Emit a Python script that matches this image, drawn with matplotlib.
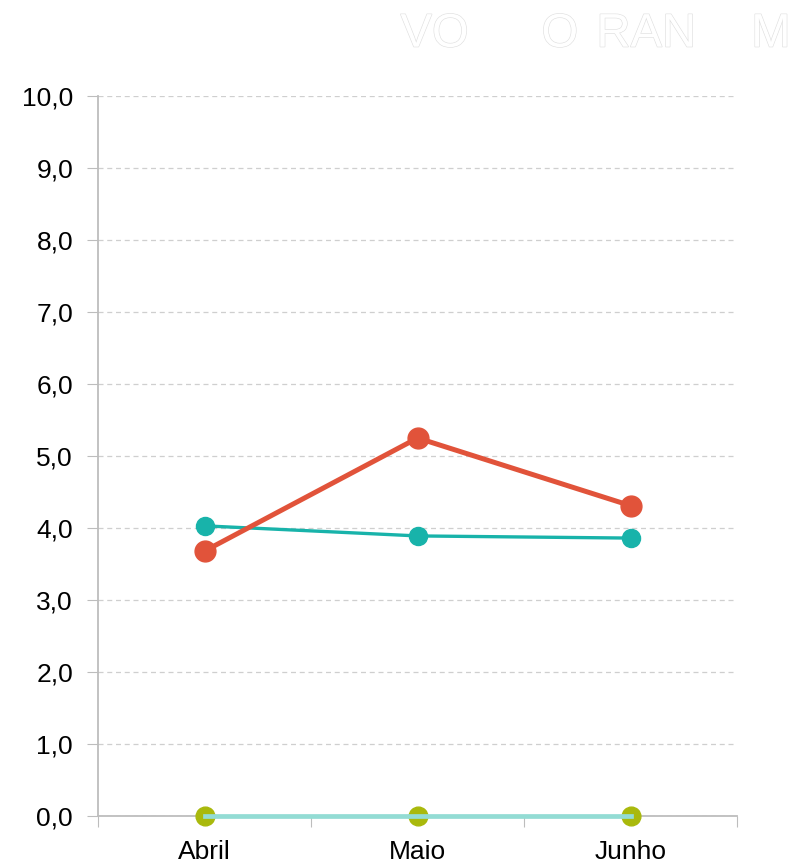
import matplotlib.pyplot as plt
import matplotlib.patheffects as pe
from matplotlib.ticker import FuncFormatter, FixedLocator

plt.rcParams['font.family'] = ['Liberation Sans', 'DejaVu Sans']

meses = ['Abril', 'Maio', 'Junho']
serie_vermelha = [3.68, 5.25, 4.31]
serie_turquesa = [4.03, 3.89, 3.86]
serie_verde = [0.0, 0.0, 0.0]
serie_clara = [0.0, 0.0, 0.0]

fig = plt.figure(figsize=(7.93, 8.67), dpi=100)
ax = fig.add_axes([0.1236, 0.0588, 0.806, 0.8305])

x = range(len(meses))
ax.plot(x, serie_verde, 'o-', color='#a9b90c', lw=2, ms=13.5, zorder=3, clip_on=False)
ax.plot(x, serie_clara, '-', color='#93dcd4', lw=3.4, zorder=4, clip_on=False)
ax.plot(x, serie_turquesa, 'o-', color='#18b3aa', lw=2.4, ms=13, zorder=5)
ax.plot(x, serie_vermelha, 'o-', color='#e1533a', lw=3.6, ms=15, zorder=6)

ax.set_xlim(-0.5, 2.5)
ax.set_ylim(0, 10)
ax.set_yticks(range(0, 11))
ax.yaxis.set_major_formatter(FuncFormatter(lambda v, p: f'{v:.1f}'.replace('.', ',')))
ax.xaxis.set_major_locator(FixedLocator([-0.5, 0.5, 1.5, 2.5]))
ax.xaxis.set_major_formatter(FuncFormatter(lambda v, p: ''))
ax.xaxis.set_minor_locator(FixedLocator(list(x)))
ax.set_xticklabels(meses, minor=True)
ax.tick_params(axis='x', which='minor', length=0, labelsize=19, pad=17)
ax.tick_params(axis='x', which='major', length=8, color='#bdbdbd', direction='out')
ax.tick_params(axis='y', length=8, color='#bdbdbd', labelsize=19, pad=10)

ax.grid(axis='y', linestyle=(0, (4, 3)), color='#cfcfcf', lw=0.9)
ax.set_axisbelow(True)
for s in ['top', 'right']:
    ax.spines[s].set_visible(False)
for s in ['left', 'bottom']:
    ax.spines[s].set_color('#bdbdbd')
    ax.spines[s].set_linewidth(1.3)
ax.spines['bottom'].set_zorder(1)

# marca d'agua apagada no topo
marca = pe.withStroke(linewidth=0.9, foreground='#e0e0e0')
for txt, xp, al in [('VO', 0.548, 'center'), ('O', 0.706, 'center'),
                    ('RAN', 0.815, 'center'), ('M', 0.997, 'right')]:
    fig.text(xp, 0.96, txt, fontsize=34, color='white', ha=al, va='center',
             path_effects=[marca])

fig.savefig('out.png', dpi=100)
